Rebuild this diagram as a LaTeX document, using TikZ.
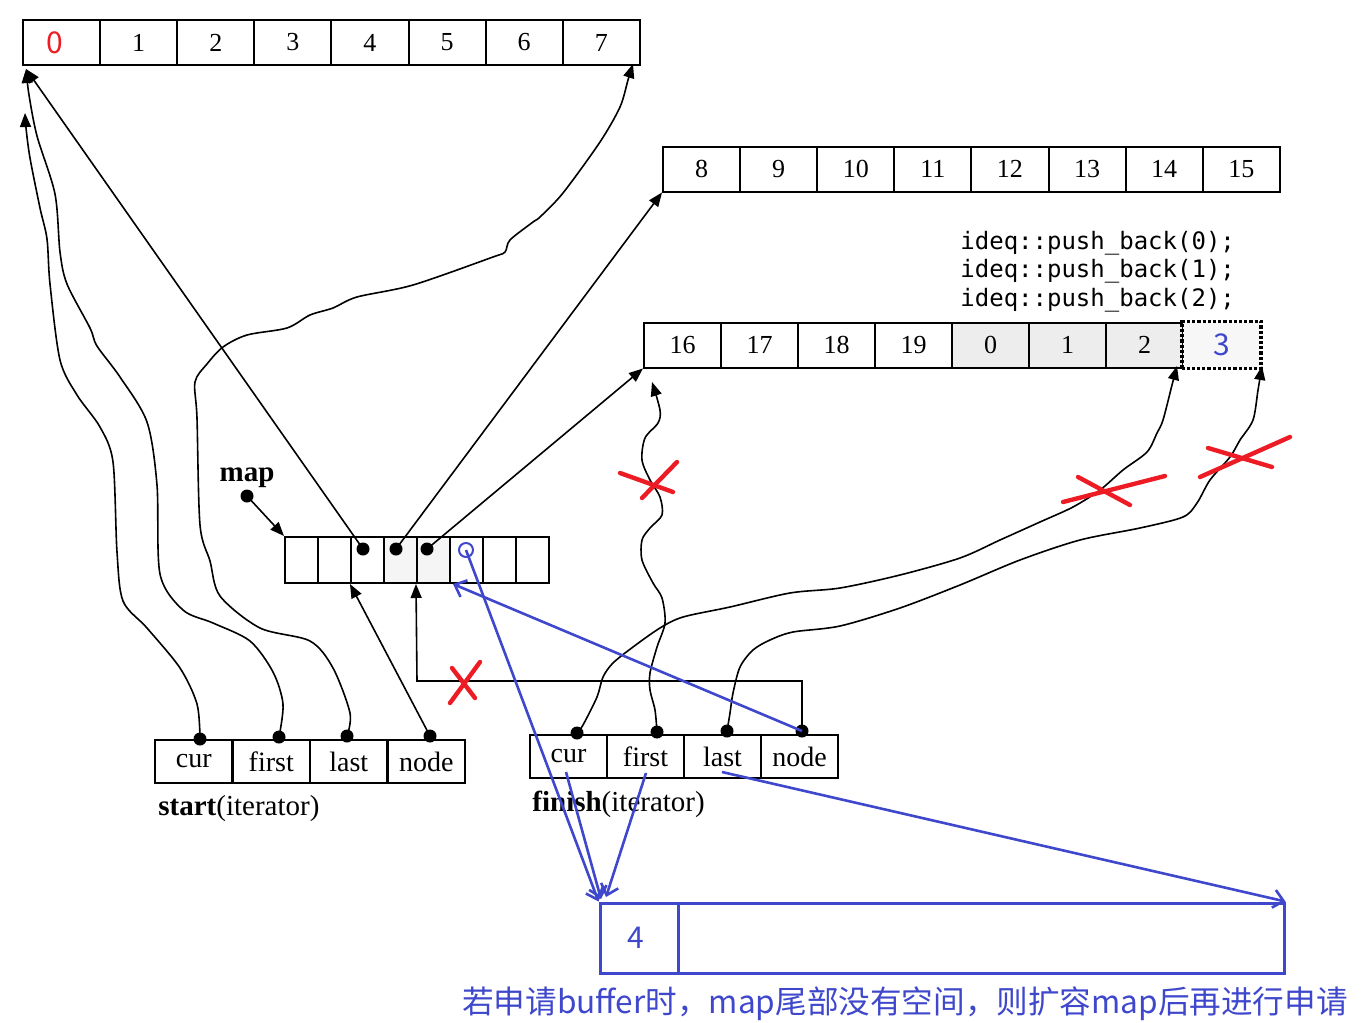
\documentclass[tikz,border=0pt]{standalone}
\usepackage{fontspec}
\setmainfont{Liberation Serif}
\newfontfamily\monof{DejaVu Sans Mono}
\newfontfamily\cjkf{Noto Sans CJK SC}
\usetikzlibrary{arrows.meta,calc}
\definecolor{pblue}{RGB}{63,72,204}
\definecolor{pred}{RGB}{237,28,36}
\tikzset{
  cellbox/.style={draw, line width=1pt, inner sep=0pt, minimum width=38.55pt, minimum height=22.5pt, font=\fontsize{13}{13}\selectfont},
  mapcell/.style={draw, line width=1pt, inner sep=0pt, minimum width=16.5pt, minimum height=23pt},
  itcell/.style={draw, line width=1pt, inner sep=0pt, minimum width=38.6pt, minimum height=21.5pt, font=\fontsize{14}{14}\selectfont},
  bdot/.style={circle, fill=black, inner sep=0pt, minimum size=6.5pt},
  ptr/.style={line width=0.8pt, -{Triangle[length=7pt,width=5.5pt]}},
  bptr/.style={draw=pblue, line width=1.3pt, -{Straight Barb[length=5pt,width=9pt,line width=1.3pt]}},
  redx/.style={draw=pred, line width=2.2pt, line cap=round},
  codetxt/.style={anchor=west, inner sep=0pt, font=\monof\fontsize{12}{12}\selectfont},
  bluebox/.style={draw=pblue, line width=1.5pt, inner sep=0pt, minimum height=35pt},
}
\begin{document}
\begin{tikzpicture}[x=0.5pt,y=-0.5pt]
\useasboundingbox (0,0) rectangle (1364,1022);

% top buffer 0..7
\node[cellbox] (a0) at (61.55,42.5) {\hspace*{-7pt}\textcolor{pred}{\cjkf\fontsize{15}{15}\selectfont 0}};
\foreach \i in {1,...,7} \node[cellbox] (a\i) at ({23+77.1*(\i+0.5)},42.5) {\i};

% second buffer 8..15
\foreach \i/\t in {0/8,1/9,2/10,3/11,4/12,5/13,6/14,7/15}
  \node[cellbox] (b\i) at ({663+77.1*(\i+0.5)},169) {\t};

% third buffer
\foreach \i/\t in {0/16,1/17,2/18,3/19}
  \node[cellbox] (c\i) at ({644+77*(\i+0.5)},345) {\t};
\foreach \i/\t in {4/0,5/1,6/2}
  \node[cellbox, fill=black!7] (c\i) at ({644+77*(\i+0.5)},345) {\t};
\node[cellbox, draw=none, fill=black!3] (c7) at ({644+77*7.5},345) {\textcolor{pblue}{\cjkf\fontsize{15}{15}\selectfont 3}};
\draw[densely dotted, line width=1.6pt] (c7.south west) rectangle (c7.north east);

% code text
\node[codetxt] (code0) at (960,243) {ideq::push\_back(0);};
\node[codetxt] (code1) at (960,271) {ideq::push\_back(1);};
\node[codetxt] (code2) at (960,300) {ideq::push\_back(2);};

% map
\foreach \i in {0,1,2,5,6,7} \node[mapcell] (m\i) at ({285+33*(\i+0.5)},560) {};
\foreach \i in {3,4} \node[mapcell, fill=black!4] (m\i) at ({285+33*(\i+0.5)},560) {};
\node[bdot] (md2) at (363,549) {};
\node[bdot] (md3) at (396,549) {};
\node[bdot] (md4) at (427,549) {};
\node[circle, draw=pblue, line width=1pt, inner sep=0pt, minimum size=7pt] (mc5) at (466,550) {};
\node[font=\bfseries\fontsize{14.5}{14.5}\selectfont, inner sep=0pt] (maplbl) at (247,478) {map};
\node[bdot] (mapd) at (247,496) {};
\draw[ptr] (mapd.center) -- (m0.north west);

% start iterator
\foreach \i/\t in {0/cur,1/first,2/last,3/node}
  \node[itcell] (s\i) at ({155+77.5*(\i+0.5)},761.5) {\t};
\node[bdot] (sd0) at (200,739) {};
\node[bdot] (sd1) at (279,737) {};
\node[bdot] (sd2) at (347,736) {};
\node[bdot] (sd3) at (430,736) {};
\node[anchor=west, inner sep=0pt, font=\fontsize{14.5}{14.5}\selectfont] (slbl) at (158,809) {\textbf{start}(iterator)};

% finish iterator
\foreach \i/\t in {0/cur,1/first,2/last,3/node}
  \node[itcell] (f\i) at ({530+77*(\i+0.5)},756.5) {\t};
\node[bdot] (fd0) at (577,733) {};
\node[bdot] (fd1) at (657,732) {};
\node[bdot] (fd2) at (727,731) {};
\node[bdot] (fd3) at (802,731) {};
\node[anchor=west, inner sep=0pt, font=\fontsize{14.5}{14.5}\selectfont] (flbl) at (532,804) {\textbf{finish}(iterator)};

% targets
\coordinate (tl1) at (26,69);
\coordinate (tl2) at (25,113);
\coordinate (t7) at (633,64);
\coordinate (tf1) at (652,382);
\coordinate (tc2) at (1177,366);
\coordinate (tc3) at (1262,366);
\coordinate (corner) at (417,681);

% start curves
\draw[ptr] plot[smooth] coordinates {(sd0.center) (197,704) (180,668) (147,628) (123,601) (117,552) (113,462) (100,427) (77,395) (60,360) (50,284) (47,239) (40,208) (30,158) (26,128) (tl2)};
\draw[ptr] plot[smooth] coordinates {(sd1.center) (283,704) (273,672) (250,641) (213,623) (183,610) (160,574) (157,485) (147,422) (120,377) (97,346) (90,328) (67,284) (60,252) (55,194) (37,136) (29,95) (tl1)};
\draw[ptr] plot[smooth] coordinates {(sd2.center) (350,713) (333,668) (310,641) (260,628) (220,596) (210,561) (200,525) (197,418) (195,382) (207,364) (223,347) (247,335) (287,328) (310,315) (333,308) (357,297) (413,285) (493,257) (505,252) (510,240) (533,222) (540,217) (563,193) (600,142) (620,107) (628,80) (t7)};
\draw[ptr] (sd3.center) -- (m2.south west);

% map pointers
\draw[ptr] (md2.center) -- (tl1);
\draw[ptr] (md3.center) -- (b0.south west);
\draw[ptr] (md4.center) -- (c0.south west);

% finish curves
\draw[ptr] plot[smooth] coordinates {(fd0.center) (583,725) (597,697) (603,677) (613,663) (633,647) (660,628) (683,617) (730,607) (790,593) (840,588) (900,575) (960,558) (1000,540) (1040,522) (1073,507) (1100,490) (1123,470) (1147,452) (1157,433) (1163,420) (1172,385) (tc2)};
\draw[ptr] plot[smooth] coordinates {(fd1.center) (655,710) (650,690) (650,673) (657,647) (665,623) (662,598) (653,583) (642,560) (642,540) (650,528) (662,515) (660,497) (650,480) (642,460) (645,438) (658,423) (660,410) (tf1)};
\draw[ptr] plot[smooth] coordinates {(fd2.center) (730,713) (733,693) (740,667) (753,650) (770,640) (793,632) (840,626) (900,608) (960,585) (1020,560) (1080,540) (1140,528) (1183,517) (1197,503) (1210,480) (1230,457) (1240,440) (1253,420) (1258,390) (tc3)};
\draw[ptr] (fd3.center) |- (corner) -- (m4.south west);

% blue box
\node[bluebox, minimum width=39pt, text=pblue, font=\cjkf\fontsize{15}{15}\selectfont] (n4) at (639,938) {\hspace*{-3pt}4};
\node[bluebox, minimum width=303pt] (nr) at (981,938) {};
\node[text=pblue, inner sep=0pt, font=\cjkf\fontsize{15.8}{15.8}\selectfont] (note) at (905,1004) {若申请buffer时，map尾部没有空间，则扩容map后再进行申请};

% blue arrows
\coordinate (bm5) at (453,584);
\coordinate (fcur) at (566,772);
\coordinate (ffirst) at (646,773);
\coordinate (flast) at (722,772);
\coordinate (n4a) at (601,899);
\coordinate (n4b) at (606,897);
\draw[bptr] (fd3.center) -- (bm5);
\draw[bptr] (mc5.center) -- (n4.north west);
\draw[bptr] (fcur) -- (n4a);
\draw[bptr] (ffirst) -- (n4b);
\draw[bptr] (flast) -- (nr.north east);

% red crosses
\draw[redx] (620,473) -- (673,492);
\draw[redx] (642,498) -- (677,462);
\draw[redx] (452,668) -- (475,698);
\draw[redx] (450,703) -- (480,662);
\draw[redx] (1063,502) -- (1165,476);
\draw[redx] (1078,477) -- (1130,505);
\draw[redx] (1200,477) -- (1290,437);
\draw[redx] (1208,448) -- (1272,467);
\end{tikzpicture}
\end{document}
